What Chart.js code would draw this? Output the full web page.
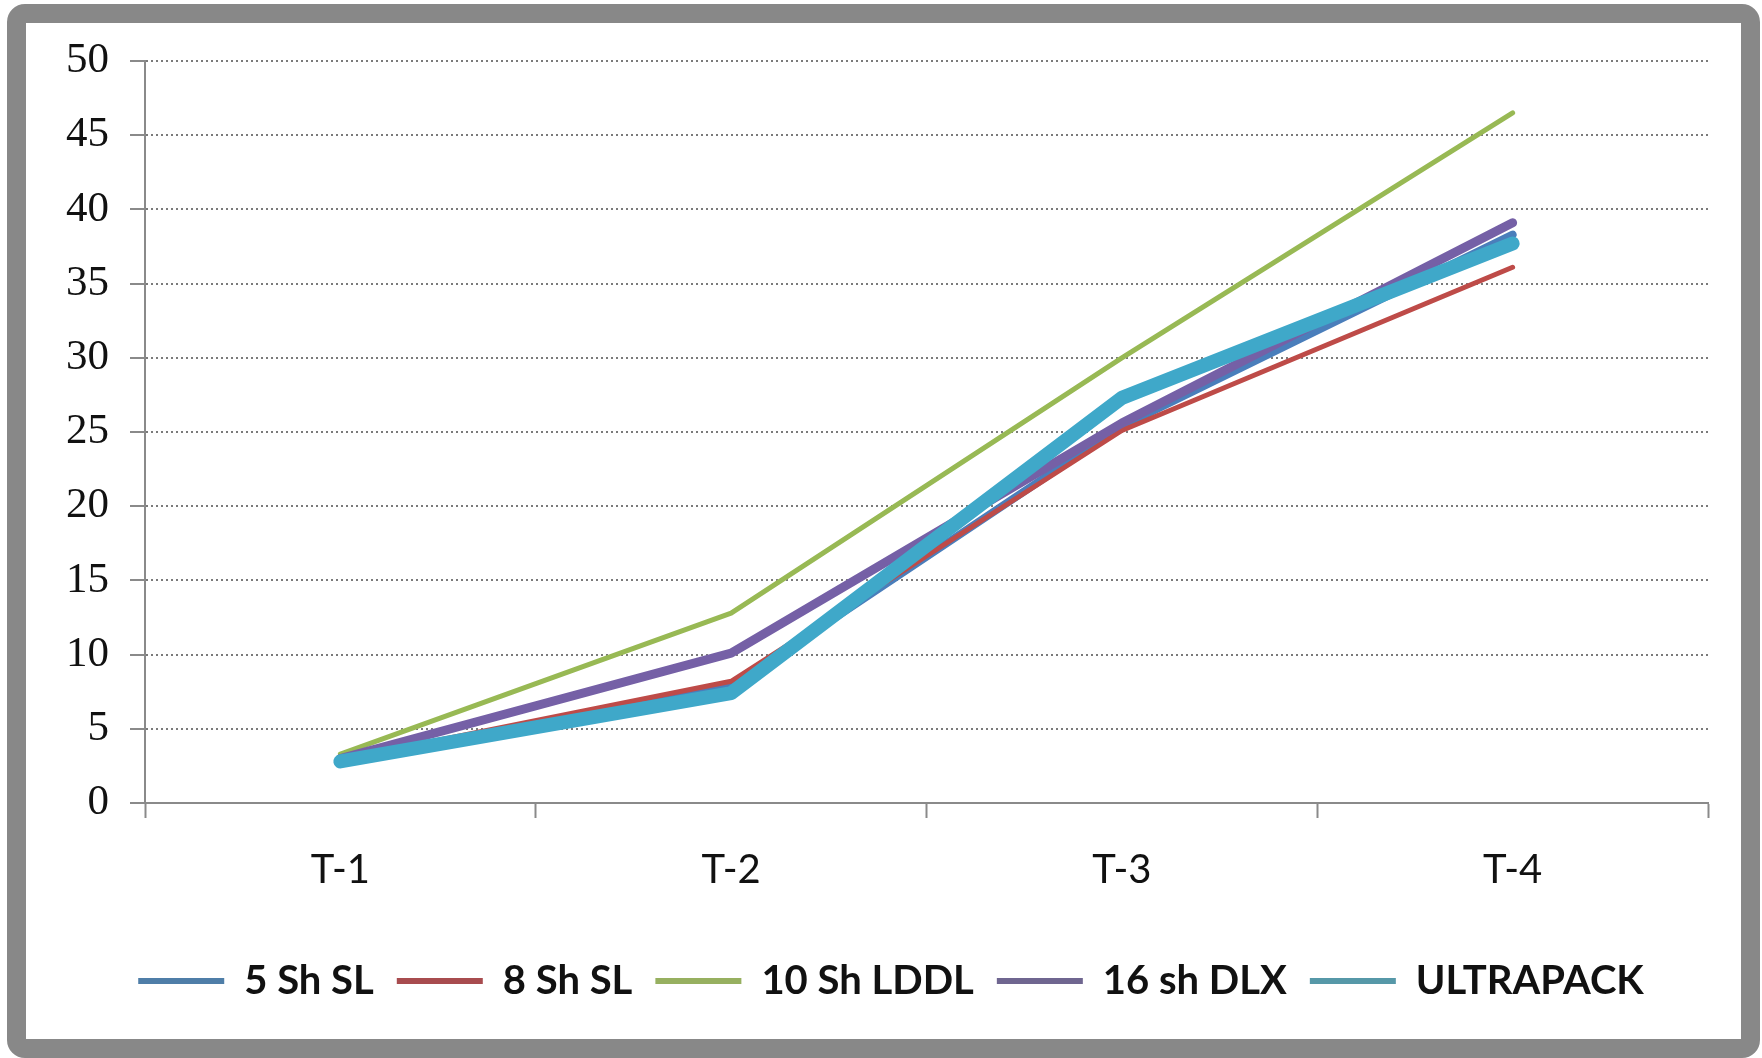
<!DOCTYPE html>
<html>
<head>
<meta charset="utf-8">
<title>T-1 to T-4 comparison</title>
<script src="https://cdn.jsdelivr.net/npm/chart.js@4/dist/chart.umd.min.js"></script>
<style>
  html, body { margin: 0; padding: 0; background: #ffffff; overflow: hidden; }
  #frame {
    position: absolute; left: 7px; top: 4px; width: 1753px; height: 1054px;
    box-sizing: border-box; border: 19px solid #888888; border-radius: 18px; background: #ffffff;
  }
  #chart { position: absolute; left: 0; top: 0; }
</style>
</head>
<body>
<div id="frame"></div>
<canvas id="chart" width="1762" height="1058"></canvas>
<script>
// Test stages along the x axis
const categories = ['T-1', 'T-2', 'T-3', 'T-4'];

// Series values per stage
const sh5SL     = [2.8, 7.8, 25.4, 38.3];
const sh8SL     = [2.9, 8.2, 25.1, 36.1];
const sh10LDDL  = [3.3, 12.8, 30.0, 46.5];
const sh16DLX   = [3.0, 10.1, 25.6, 39.1];
const ultrapack = [2.8, 7.4, 27.3, 37.7];

const seriesNames = ['5 Sh SL', '8 Sh SL', '10 Sh LDDL', '16 sh DLX', 'ULTRAPACK'];
const yTicks = [0, 5, 10, 15, 20, 25, 30, 35, 40, 45, 50];

const lineColors   = ['#4a7ebb', '#be4b48', '#98b954', '#7560a6', '#3fa8c9'];
const legendColors = ['#4f7ea8', '#a84c4f', '#97b060', '#6f6690', '#5698a8'];
const lineWidths   = [8, 5, 5, 9, 14];

const seriesValues = [sh5SL, sh8SL, sh10LDDL, sh16DLX, ultrapack];

const datasets = seriesValues.map((vals, i) => ({
  label: seriesNames[i],
  data: vals,
  borderColor: lineColors[i],
  backgroundColor: legendColors[i],
  borderWidth: lineWidths[i],
  borderCapStyle: 'round',
  borderJoinStyle: 'round',
  tension: 0,
  pointRadius: 0,
  pointHoverRadius: 0,
  // later series are painted over earlier ones
  order: seriesNames.length - i
}));

// Nudge the legend row to the right so it sits under the middle of the frame
const legendShift = {
  id: 'legendShift',
  afterLayout(chart) {
    const lg = chart.legend;
    if (lg) { lg.left += 37; lg.right += 37; }
  }
};

new Chart(document.getElementById('chart'), {
  type: 'line',
  data: { labels: categories, datasets },
  plugins: [legendShift],
  options: {
    responsive: false,
    animation: false,
    events: [],
    layout: { padding: { left: 0, right: 54, top: 61, bottom: 47 } },
    plugins: {
      tooltip: { enabled: false },
      legend: {
        position: 'bottom',
        align: 'center',
        labels: {
          sort: (a, b) => a.datasetIndex - b.datasetIndex,
          boxWidth: 86,
          boxHeight: 6,
          padding: 23,
          color: '#111111',
          font: { family: 'Lato', size: 40, weight: 'bold' },
          generateLabels: (chart) => chart.data.datasets.map((ds, i) => ({
            text: ds.label,
            fillStyle: legendColors[i],
            strokeStyle: legendColors[i],
            lineWidth: 0,
            hidden: false,
            datasetIndex: i,
            fontColor: '#111111'
          }))
        }
      }
    },
    scales: {
      x: {
        type: 'category',
        offset: true,
        afterFit: (scale) => { scale.height = 135; },
        grid: {
          offset: true,
          drawOnChartArea: false,
          drawTicks: true,
          tickLength: 15,
          tickColor: '#8a8a8a',
          tickWidth: 2
        },
        border: { display: true, color: '#8a8a8a', width: 2 },
        ticks: {
          padding: 28,
          color: '#111111',
          font: { family: 'Lato', size: 40 }
        }
      },
      y: {
        min: 0,
        max: 50,
        afterFit: (scale) => { scale.width = 145; },
        afterBuildTicks: (scale) => { scale.ticks = yTicks.map(v => ({ value: v })); },
        grid: {
          drawOnChartArea: true,
          drawTicks: true,
          tickLength: 15,
          color: '#7a7a7a',
          lineWidth: 2,
          tickColor: '#8a8a8a',
          tickWidth: 2,
          tickBorderDash: []
        },
        border: { display: true, color: '#8a8a8a', width: 2, dash: [2, 3] },
        ticks: {
          padding: 21,
          color: '#111111',
          font: { family: 'Liberation Serif', size: 43 }
        }
      }
    }
  }
});
</script>
</body>
</html>
